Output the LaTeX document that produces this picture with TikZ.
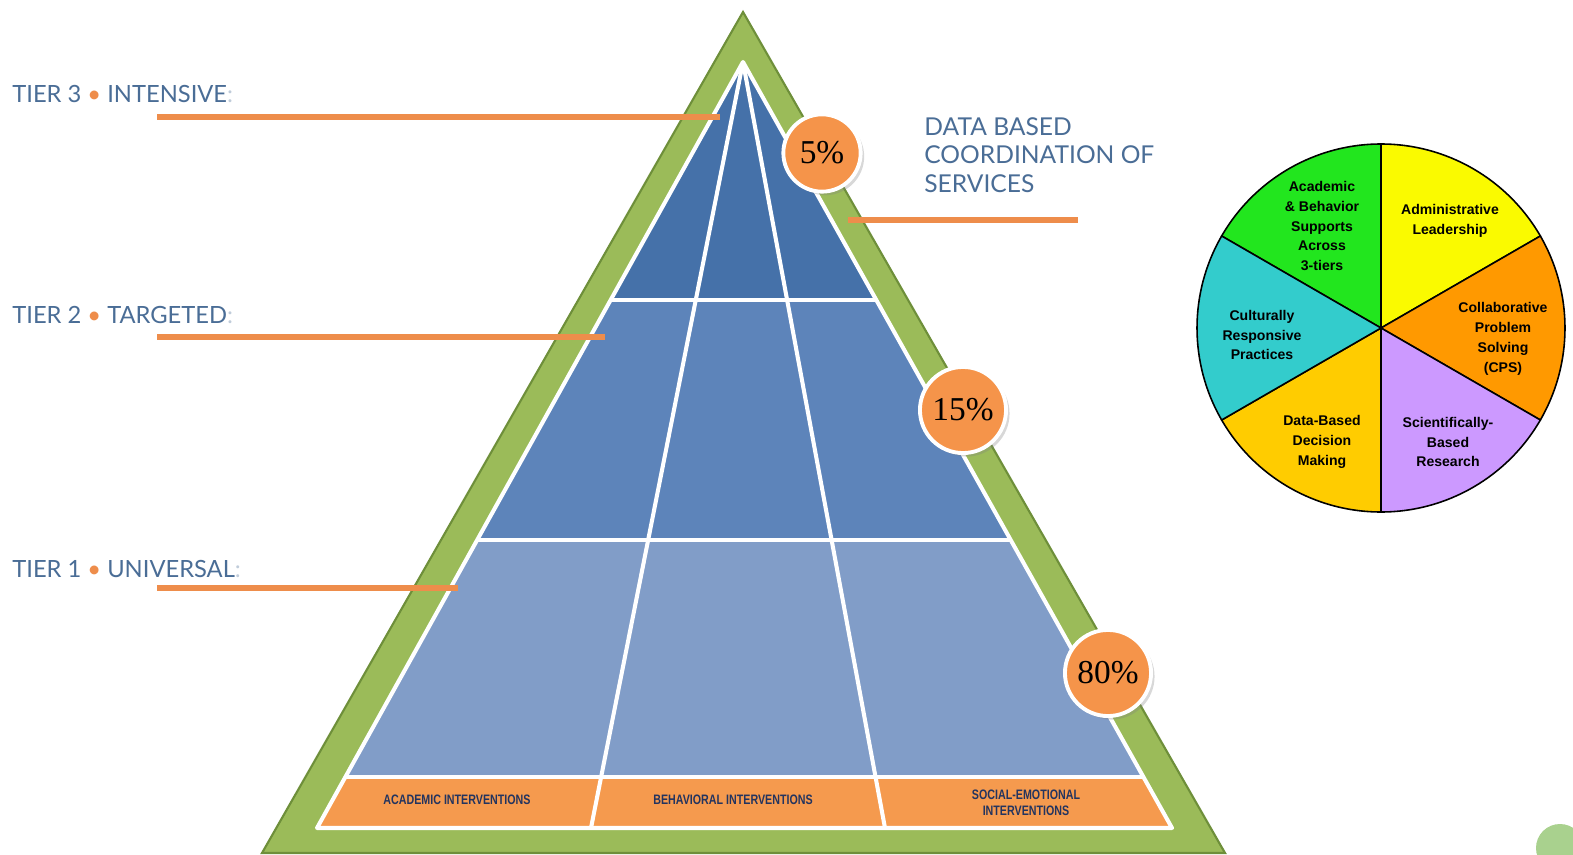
\documentclass[tikz,border=0pt]{standalone}
\usepackage{fontspec}
\newfontfamily\tierfont{Lato}
\newfontfamily\piefont{Liberation Sans}
\newfontfamily\pctfont{Liberation Serif}
\usetikzlibrary{calc,shadows}

\definecolor{pyrgreen}{HTML}{9BBB59}
\definecolor{pyrgreendark}{HTML}{6E8F3A}
\definecolor{tierthree}{HTML}{4571A9}
\definecolor{tiertwo}{HTML}{5D84BA}
\definecolor{tierone}{HTML}{819DC8}
\definecolor{bandorange}{HTML}{F59A4E}
\definecolor{leaderorange}{HTML}{EE8D4B}
\definecolor{labelblue}{HTML}{4A6D96}
\definecolor{bandtext}{HTML}{23345F}
\definecolor{pctorange}{HTML}{F5944A}
\definecolor{piegreen}{HTML}{22E61E}
\definecolor{pieyellow}{HTML}{FAFA00}
\definecolor{pieorange}{HTML}{FF9900}
\definecolor{pielilac}{HTML}{CC99FF}
\definecolor{piegold}{HTML}{FFCC00}
\definecolor{pieteal}{HTML}{33CCCC}
\definecolor{cornergreen}{HTML}{A9D18E}

\begin{document}
\begin{tikzpicture}[x=0.02cm, y=-0.02cm,
    tierlabel/.style={anchor=base west, inner sep=0pt, text=labelblue,
      font=\tierfont\fontsize{13.5}{16.4}\selectfont},
    leader/.style={leaderorange, line width=3.1pt},
    divider/.style={white, line width=2.3pt, line join=round},
    pct/.style={circle, fill=pctorange, draw=white, line width=2.2pt,
      font=\pctfont\fontsize{19}{19}\selectfont,
      drop shadow={opacity=0.3, shadow xshift=2pt, shadow yshift=-2pt}},
    piecell/.style={align=center, inner sep=0pt,
      font=\piefont\bfseries\fontsize{8}{11.3}\selectfont},
    bandlabel/.style={align=center, inner sep=0pt, text=bandtext,
      font=\piefont\bfseries\fontsize{7.8}{9.2}\selectfont}]

  \fill[white] (0,0) rectangle (1573,855);
  \useasboundingbox (0,0) rectangle (1573,855);

  % Green frame of the pyramid
  \filldraw[fill=pyrgreen, draw=pyrgreendark, line width=1.2pt]
    (743,12) -- (262,853) -- (1225,853) -- cycle;

  % Inner pyramid
  \coordinate (apex) at (743,62);
  \coordinate (baseL) at (317,828);
  \coordinate (baseR) at (1172,828);
  \coordinate (footL) at (591,828);
  \coordinate (footR) at (885,828);
  \coordinate (l1) at ($(apex)!0.3107!(baseL)$);
  \coordinate (r1) at ($(apex)!0.3107!(baseR)$);
  \coordinate (l2) at ($(apex)!0.624!(baseL)$);
  \coordinate (r2) at ($(apex)!0.624!(baseR)$);
  \coordinate (l3) at ($(apex)!0.9334!(baseL)$);
  \coordinate (r3) at ($(apex)!0.9334!(baseR)$);

  \fill[tierthree] (apex) -- (l1) -- (r1) -- cycle;
  \fill[tiertwo] (l1) -- (l2) -- (r2) -- (r1) -- cycle;
  \fill[tierone] (l2) -- (l3) -- (r3) -- (r2) -- cycle;
  \fill[bandorange] (l3) -- (baseL) -- (baseR) -- (r3) -- cycle;

  \draw[divider] (apex) -- (baseL) -- (baseR) -- cycle;
  \draw[divider] (l1) -- (r1);
  \draw[divider] (l2) -- (r2);
  \draw[divider] (l3) -- (r3);
  \draw[divider] (apex) -- (footL);
  \draw[divider] (apex) -- (footR);

  % Labels of the bottom band
  \node[bandlabel] (academic) at (457,800) {\scalebox{0.78}[1]{ACADEMIC INTERVENTIONS}};
  \node[bandlabel] (behavioral) at (733,800) {\scalebox{0.78}[1]{BEHAVIORAL INTERVENTIONS}};
  \node[bandlabel] (socialemo) at (1026,803) {\scalebox{0.78}[1]{SOCIAL-EMOTIONAL}\\\scalebox{0.78}[1]{INTERVENTIONS}};

  % Percentages
  \node[pct, minimum size=44pt] (five) at (822,153) {5\%};
  \node[pct, minimum size=49pt] (fifteen) at (963,410) {15\%};
  \node[pct, minimum size=49pt] (eighty) at (1108,673) {80\%};

  % Tier labels and leaders
  \node[tierlabel] (tier3) at (12,103) {TIER 3 {\color{leaderorange}•} INTENSIVE{\color{labelblue!35}:}};
  \node[tierlabel] (tier2) at (12,323) {TIER 2 {\color{leaderorange}•} TARGETED{\color{labelblue!35}:}};
  \node[tierlabel] (tier1) at (12,577) {TIER 1 {\color{leaderorange}•} UNIVERSAL{\color{labelblue!35}:}};
  \node[anchor=north west, inner sep=0pt, align=left, text=labelblue,
    font=\tierfont\fontsize{14}{16.4}\selectfont] (databased) at (924,117)
    {DATA BASED\\COORDINATION OF\\SERVICES};

  \coordinate (t3from) at (157,117);
  \coordinate (t3to) at (720,117);
  \coordinate (t2from) at (157,337);
  \coordinate (t2to) at (605,337);
  \coordinate (t1from) at (157,588);
  \coordinate (t1to) at (458,588);
  \coordinate (dbfrom) at (848,220);
  \coordinate (dbto) at (1078,220);
  \draw[leader] (t3from) -- (t3to);
  \draw[leader] (t2from) -- (t2to);
  \draw[leader] (t1from) -- (t1to);
  \draw[leader] (dbfrom) -- (dbto);

  % Pie of the framework
  \begin{scope}[shift={(1381,328)}, yscale=-1]
    \filldraw[fill=piegreen, line width=0.9pt] (0,0) -- (90:184) arc[start angle=90, end angle=150, radius=184] -- cycle;
    \filldraw[fill=pieyellow, line width=0.9pt] (0,0) -- (30:184) arc[start angle=30, end angle=90, radius=184] -- cycle;
    \filldraw[fill=pieorange, line width=0.9pt] (0,0) -- (-30:184) arc[start angle=-30, end angle=30, radius=184] -- cycle;
    \filldraw[fill=pielilac, line width=0.9pt] (0,0) -- (-90:184) arc[start angle=-90, end angle=-30, radius=184] -- cycle;
    \filldraw[fill=piegold, line width=0.9pt] (0,0) -- (-150:184) arc[start angle=-150, end angle=-90, radius=184] -- cycle;
    \filldraw[fill=pieteal, line width=0.9pt] (0,0) -- (150:184) arc[start angle=150, end angle=210, radius=184] -- cycle;
  \end{scope}
  \node[piecell] (supports) at (1322,226) {Academic\\\& Behavior\\Supports\\Across\\3-tiers};
  \node[piecell] (leadership) at (1450,221) {Administrative\\Leadership};
  \node[piecell] (cps) at (1503,339) {Collaborative\\Problem\\Solving\\(CPS)};
  \node[piecell] (research) at (1448,442) {Scientifically-\\Based\\Research};
  \node[piecell] (decision) at (1322,442) {Data-Based\\Decision\\Making};
  \node[piecell] (culture) at (1262,335) {Culturally\\Responsive\\Practices};

  % corner mark
  \fill[cornergreen] (1560,848) circle (24);
\end{tikzpicture}
\end{document}
